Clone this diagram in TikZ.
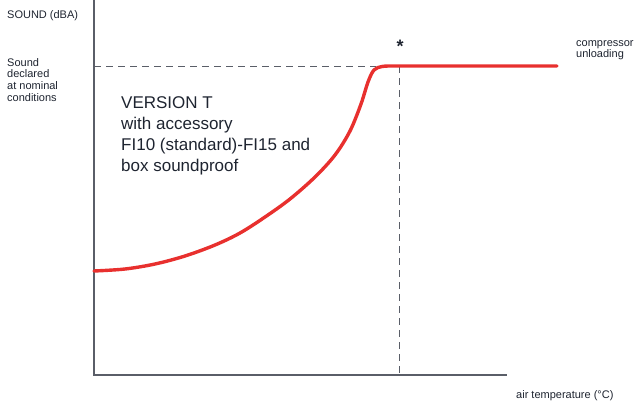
\documentclass[tikz,border=0pt]{standalone}
\usepackage{fontspec}
\setmainfont{Liberation Sans}
\usetikzlibrary{positioning}
\definecolor{axisgray}{HTML}{5A5E68}
\definecolor{curvered}{HTML}{E8302E}
\definecolor{textdark}{HTML}{1E2430}
\begin{document}
\begin{tikzpicture}[x=1pt,y=-1pt,
        axis/.style={draw=axisgray,line width=1.1pt},
        guide/.style={draw=axisgray,line width=0.8pt,dash pattern=on 7pt off 5pt},
        curve/.style={draw=curvered,line width=3.4pt,line cap=round,line join=round},
        small/.style={font=\fontsize{11}{11.8}\selectfont,text=textdark,align=left,inner sep=0pt},
        big/.style={font=\fontsize{17}{21.3}\selectfont,text=textdark,align=left,inner sep=0pt}
    ]
    \useasboundingbox (0,0) rectangle (637,405);

    % axes
    \coordinate (origin) at (94,375);
    \coordinate (ytop) at (94,0);
    \coordinate (xend) at (507,375);
    \draw[axis] (ytop) -- (origin) -- (xend);

    % nominal level and limit temperature
    \coordinate (nominal) at (94,66);
    \coordinate (knee) at (376,66);
    \coordinate (limit) at (399,66);
    \coordinate (limitfoot) at (399,375);
    \draw[guide] (nominal) -- (knee);
    \draw[guide] (limit) -- (limitfoot);

    % sound curve
    \draw[curve] plot[smooth,tension=0.55] coordinates {
        (94,271) (125,269) (155,264) (185,256) (215,245) (240,233)
        (265,217) (290,199) (315,177) (335,155) (350,131) (361,104)
        (368,82) (374,70) (382,66.5) (392,66)}
        -- (557,66);

    % labels
    \node[small,anchor=base west] (ylabel) at (7,18) {SOUND (dBA)};
    \node[small,anchor=north west] (declared) at (7,58) {Sound\\declared\\at nominal\\conditions};
    \node[big,anchor=north west] (version) at (121,96) {VERSION T\\with accessory\\FI10 (standard)-FI15 and\\box soundproof};
    \node[font=\fontsize{18}{18}\selectfont\bfseries,text=textdark,inner sep=0pt] (star) at (400,46) {*};
    \node[small,anchor=north west] (unload) at (576,40) {compressor\\unloading};
    \node[small,anchor=base west] (xlabel) at (516,398) {air temperature (°C)};
\end{tikzpicture}
\end{document}
